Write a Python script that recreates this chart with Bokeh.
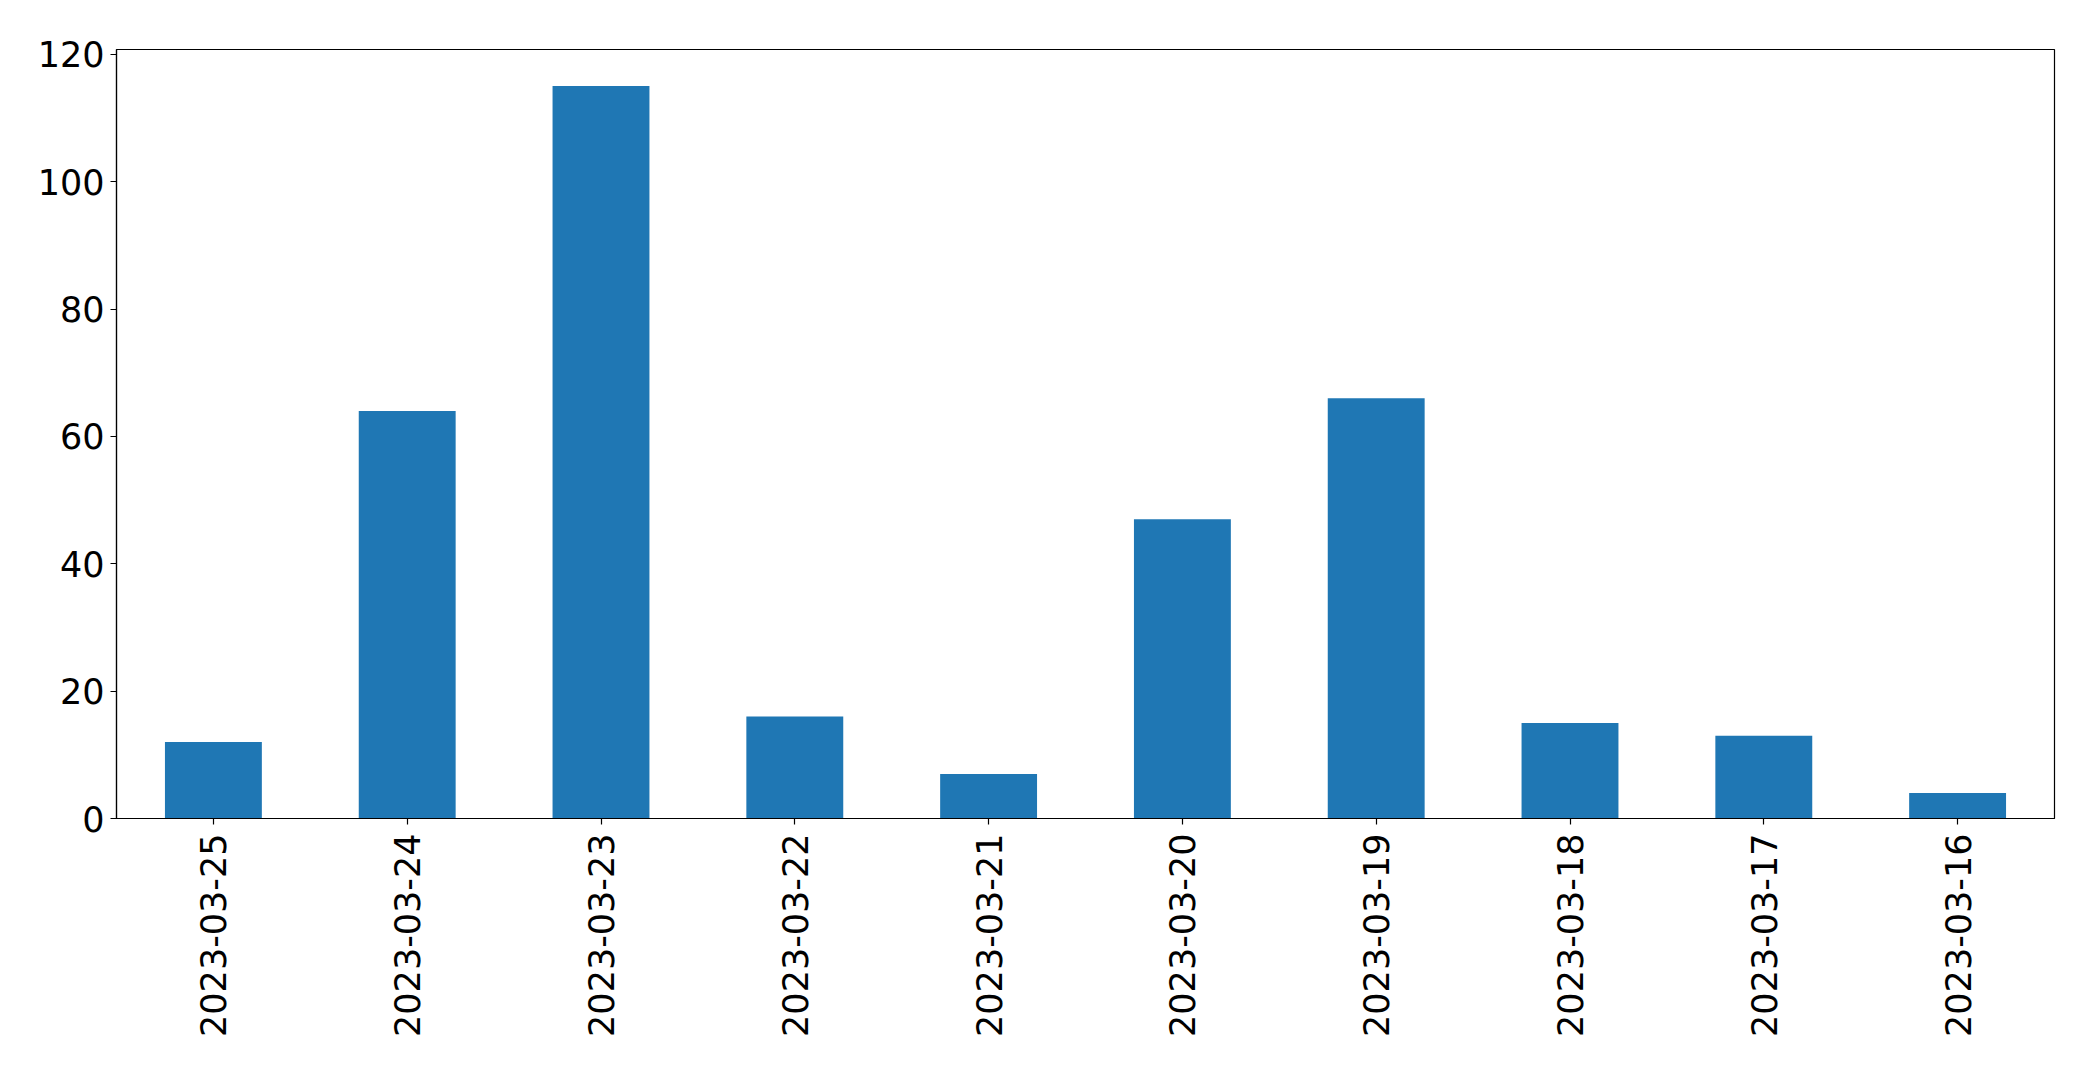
import math
from bokeh.plotting import figure
from bokeh.models import FactorRange, Range1d, FixedTicker, ColumnDataSource
from bokeh.embed import file_html
from bokeh.resources import INLINE

dates = ["2023-03-25", "2023-03-24", "2023-03-23", "2023-03-22", "2023-03-21",
         "2023-03-20", "2023-03-19", "2023-03-18", "2023-03-17", "2023-03-16"]
counts = [12, 64, 115, 16, 7, 47, 66, 15, 13, 4]
y_ticks = [0, 20, 40, 60, 80, 100, 120]

src = ColumnDataSource(data=dict(date=dates, count=counts))

W, H = 2077, 1054
p = figure(width=W, height=H, output_backend="svg", toolbar_location=None,
           x_range=FactorRange(*dates), y_range=Range1d(0, max(counts) * 1.05))
p.min_border_left = 116
p.min_border_top = 49
p.min_border_right = W - 2054
p.min_border_bottom = H - 818

p.vbar(x="date", top="count", width=0.5, source=src, color="#1f77b4", line_color=None)

p.xgrid.visible = False
p.ygrid.visible = False
p.outline_line_color = "black"
p.outline_line_width = 1.2
p.background_fill_color = "white"
p.border_fill_color = "white"

for ax in (p.xaxis[0], p.yaxis[0]):
    ax.major_label_text_font = "DejaVu Sans"
    ax.major_label_text_font_size = "35px"
    ax.major_label_text_color = "black"
    ax.axis_line_color = "black"
    ax.axis_line_width = 1.2
    ax.major_tick_line_color = "black"
    ax.major_tick_line_width = 1.2
    ax.major_tick_out = 6
    ax.major_tick_in = 0
    ax.minor_tick_line_color = None

p.yaxis.ticker = FixedTicker(ticks=y_ticks)
p.yaxis.major_label_standoff = 6
p.xaxis.major_label_orientation = math.pi / 2
p.xaxis.major_label_standoff = 9

open("out.html", "w").write(file_html(p, INLINE))
